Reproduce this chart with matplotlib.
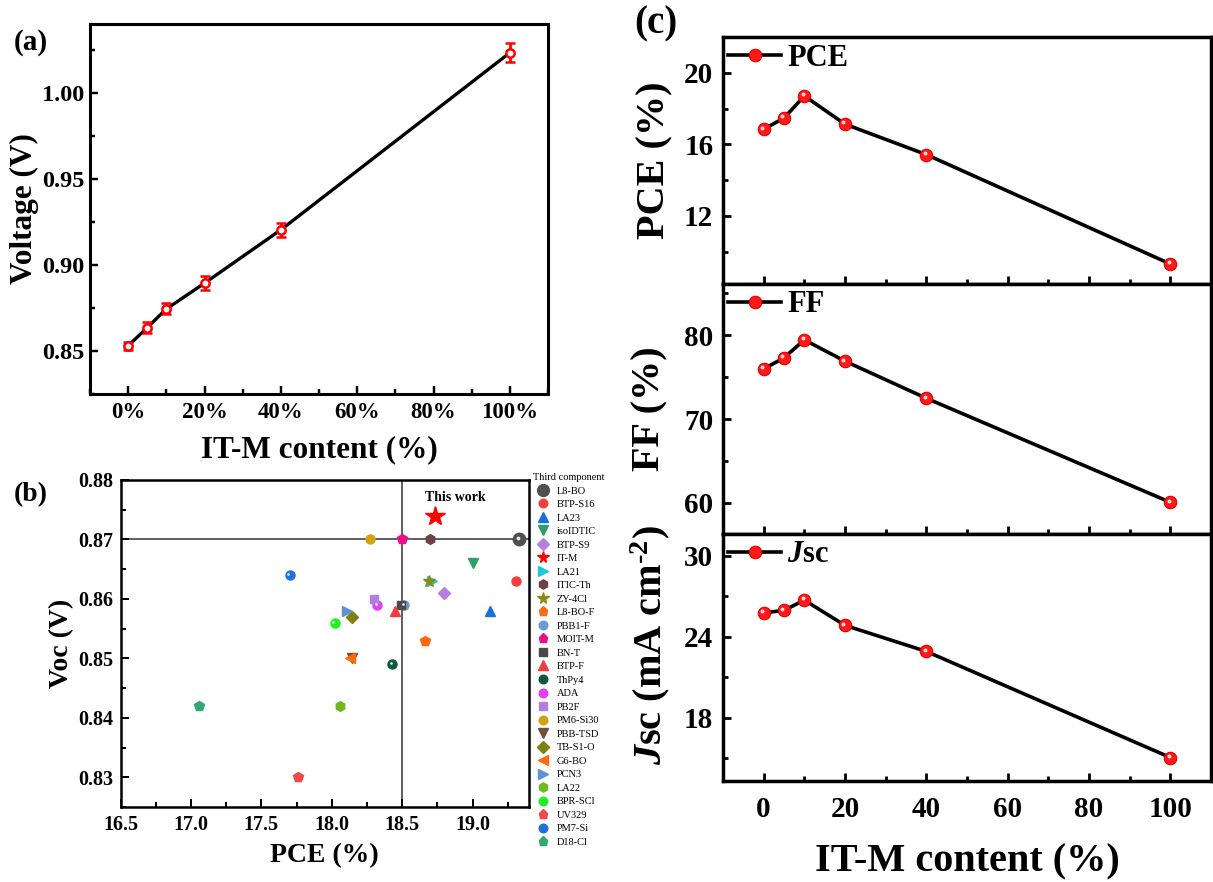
import numpy as np
import matplotlib
matplotlib.use('Agg')
import matplotlib.pyplot as plt
from matplotlib.lines import Line2D
from matplotlib.transforms import ScaledTranslation
from matplotlib.ticker import MultipleLocator, FuncFormatter

plt.rcParams['font.family'] = ['Liberation Serif', 'DejaVu Serif']
plt.rcParams['font.weight'] = 'bold'
plt.rcParams['axes.labelweight'] = 'bold'
plt.rcParams['mathtext.fontset'] = 'custom'
plt.rcParams['mathtext.rm'] = 'Liberation Serif:bold'
plt.rcParams['mathtext.it'] = 'Liberation Serif:italic:bold'
plt.rcParams['mathtext.bf'] = 'Liberation Serif:bold'

# ---- (a) Voc vs IT-M content
content = [0, 5, 10, 20, 40, 100]
voltage = [0.853, 0.8636, 0.8744, 0.8894, 0.9204, 1.0233]
voltage_err = [0.0024, 0.0034, 0.0032, 0.0040, 0.0040, 0.0055]

# ---- (b) literature comparison
components = ['L8-BO', 'BTP-S16', 'LA23', 'isoIDTIC', 'BTP-S9', 'IT-M', 'LA21', 'ITIC-Th',
              'ZY-4Cl', 'L8-BO-F', 'PBB1-F', 'MOIT-M', 'BN-T', 'BTP-F', 'ThPy4', 'ADA',
              'PB2F', 'PM6-Si30', 'PBB-TSD', 'TB-S1-O', 'G6-BO', 'PCN3', 'LA22', 'BPR-SCl',
              'UV329', 'PM7-Si', 'D18-Cl']
pce_lit = [19.33, 19.31, 19.12, 19.00, 18.80, 18.73, 18.71, 18.70,
           18.69, 18.66, 18.51, 18.50, 18.49, 18.45, 18.43, 18.32,
           18.30, 18.27, 18.14, 18.14, 18.13, 18.11, 18.06, 18.02,
           17.76, 17.70, 17.06]
voc_lit = [0.870, 0.863, 0.858, 0.866, 0.861, 0.874, 0.863, 0.870,
           0.863, 0.853, 0.859, 0.870, 0.859, 0.858, 0.849, 0.859,
           0.860, 0.870, 0.850, 0.857, 0.850, 0.858, 0.842, 0.856,
           0.830, 0.864, 0.842]
# marker styles per component
mk = ['o', 'o', '^', 'v', 'D', '*', '>', 'h',
      '*', 'p', 'o', 'p', 's', '^', 'o', 'o',
      's', 'o', 'v', 'D', '<', '>', 'h', 'o',
      'p', 'o', 'p']
cols = ['#505050', '#f04040', '#1a6fdc', '#2e9e6a', '#b47fe0', '#ff0000', '#1ec8d8', '#6e4040',
        '#8a8a10', '#ff6a10', '#6a9ad8', '#e8108a', '#4a4a4a', '#f03c3c', '#0d5a3a', '#e040f0',
        '#b080e0', '#d4a010', '#7a4a3a', '#808010', '#ff6a10', '#6090d0', '#70b820', '#20f020',
        '#f04848', '#2070e0', '#30a870']
sizes = [9, 6.5, 7, 7, 6, 15, 7, 7,
         9, 7, 6.5, 7, 6, 7, 6.5, 6.5,
         6, 6.5, 7, 6, 7, 7, 7, 6.5,
         7, 6.5, 7]
sphere = ['L8-BO', 'PBB1-F', 'ThPy4', 'ADA', 'BPR-SCl', 'PM7-Si']

# ---- (c) device parameters
pce = [16.85, 17.47, 18.71, 17.13, 15.43, 9.32]
ff = [75.98, 77.30, 79.44, 76.90, 72.48, 60.08]
jsc = [25.76, 25.94, 26.70, 24.83, 22.90, 15.04]

W, H = 1213, 882
fig = plt.figure(figsize=(W / 100, H / 100), dpi=100)


def box(l, t, r, b):
    return [l / W, 1 - b / H, (r - l) / W, (b - t) / H]


def style(ax, lw, fs, pad):
    for s in ax.spines.values():
        s.set_linewidth(lw)
    ax.tick_params(which='both', direction='in', top=False, right=False, width=lw * 0.8)
    ax.tick_params(which='major', length=6, labelsize=fs, pad=pad)
    ax.tick_params(which='minor', length=3.5)


def highlight(ax, x, y, ms, dx=-1.0, dy=1.0):
    off = ax.transData + ScaledTranslation(dx / 72, dy / 72, fig.dpi_scale_trans)
    ax.plot(x, y, 'o', ms=ms, color='white', alpha=0.85, mec='none', transform=off, zorder=6)


# ================= (a)
axa = fig.add_axes(box(90, 24, 548, 394))
axa.plot(content, voltage, color='black', lw=2.4, zorder=2)
axa.errorbar(content, voltage, yerr=voltage_err, fmt='o', ms=6, mfc='white', mec='red', mew=1.8,
             ecolor='red', elinewidth=2.0, capsize=3.5, capthick=2.0, zorder=3)
axa.set_xlim(-10, 110)
axa.set_ylim(0.825, 1.04)
axa.xaxis.set_major_locator(MultipleLocator(20))
axa.xaxis.set_minor_locator(MultipleLocator(10))
axa.yaxis.set_major_locator(MultipleLocator(0.05))
axa.yaxis.set_minor_locator(MultipleLocator(0.025))
axa.xaxis.set_major_formatter(FuncFormatter(lambda v, p: f'{int(round(v))}%'))
style(axa, 2.2, 16.5, 6)
axa.tick_params(axis='y', pad=4, labelsize=17.5)
axa.set_ylabel('Voltage (V)', fontsize=22.5)
axa.set_xlabel('IT-M content (%)', fontsize=22.5)
axa.yaxis.set_label_coords(-0.111, 0.5)
axa.xaxis.set_label_coords(0.5, -0.111)
fig.text(14 / W, 1 - 42 / H, '(a)', fontsize=21, va='center', ha='left')

# ================= (b)
axb = fig.add_axes(box(120.5, 480, 529, 807))
axb.axhline(0.87, color='#333333', lw=1.1, zorder=1)
axb.axvline(18.5, color='#333333', lw=1.1, zorder=1)
handles = []
for name, x, y, m, c, s in zip(components, pce_lit, voc_lit, mk, cols, sizes):
    axb.plot(x, y, marker=m, ms=s, color=c, mec=c, ls='none', zorder=4)
    if name in sphere:
        highlight(axb, x, y, s * 0.3, -0.8, 0.8)
    handles.append(Line2D([], [], marker=m, ms=min(s, 9) * 0.95, color=c, ls='none'))
axb.text(18.88, 0.8771, 'This work', fontsize=10, ha='center', va='center')
axb.set_xlim(16.5, 19.4)
axb.set_ylim(0.825, 0.88)
axb.xaxis.set_major_locator(MultipleLocator(0.5))
axb.xaxis.set_minor_locator(MultipleLocator(0.25))
axb.yaxis.set_major_locator(MultipleLocator(0.01))
axb.yaxis.set_minor_locator(MultipleLocator(0.005))
axb.xaxis.set_major_formatter(FuncFormatter(lambda v, p: f'{v:.1f}'))
axb.yaxis.set_major_formatter(FuncFormatter(lambda v, p: f'{v:.2f}'))
style(axb, 1.8, 14.5, 6)
axb.tick_params(axis='y', pad=5)
axb.set_ylabel('Voc (V)', fontsize=20)
axb.set_xlabel('PCE (%)', fontsize=20)
axb.yaxis.set_label_coords(-0.114, 0.5)
axb.xaxis.set_label_coords(0.5, -0.11)
fig.text(14 / W, 1 - 495 / H, '(b)', fontsize=20, va='center', ha='left')

leg = axb.legend(handles, components, loc='upper left', bbox_to_anchor=(533 / W, 1 - 473 / H),
                 bbox_transform=fig.transFigure, frameon=False, prop={'size': 7.5, 'weight': 'normal'},
                 title='Third component', title_fontproperties={'size': 7.5, 'weight': 'normal'},
                 handlelength=1.9, handletextpad=0.35, labelspacing=0.405, borderpad=0,
                 borderaxespad=0, alignment='left')

# ================= (c)
panels = [(pce, 'PCE (%)', 'PCE', (8.2, 22.0), 4, 2, 37, 284, -0.102, 0.5),
          (ff, 'FF (%)', 'FF', (56.3, 86.1), 10, 5, 284, 534, -0.112, 0.5),
          (jsc, r'$\mathit{J}$sc (mA cm$^{\text{-2}}$)', r'$\mathit{J}$sc', (13.3, 31.6), 6, 3, 534, 781,
           -0.105, 0.55)]
axes_c = []
for vals, ylab, lab, ylim, maj, mnr, top, bot, lx, ly in panels:
    ax = fig.add_axes(box(723, top, 1211, bot))
    ax.plot(content, vals, color='black', lw=2.6, marker='o', ms=9, mfc='#ff1a1a', mec='#e00000',
            mew=0.8, label=lab, zorder=3)
    highlight(ax, content, vals, 2.8, -1.2, 1.2)
    ax.set_xlim(-10, 110)
    ax.set_ylim(*ylim)
    ax.xaxis.set_major_locator(MultipleLocator(20))
    ax.xaxis.set_minor_locator(MultipleLocator(10))
    ax.yaxis.set_major_locator(MultipleLocator(maj))
    ax.yaxis.set_minor_locator(MultipleLocator(mnr))
    style(ax, 2.5, 21, 7)
    ax.tick_params(axis='x', pad=11)
    ax.set_ylabel(ylab, fontsize=29)
    ax.yaxis.set_label_coords(lx, ly)
    ax.legend(loc='center left', bbox_to_anchor=(0.01, 1 - 21 / (bot - top)), frameon=False,
              fontsize=22, handlelength=1.75, handletextpad=0.2, borderpad=0, borderaxespad=0)
    axes_c.append(ax)

for ax in axes_c[:2]:
    ax.tick_params(axis='x', labelbottom=False)
axes_c[2].set_xlabel('IT-M content (%)', fontsize=29)
axes_c[2].xaxis.set_label_coords(0.5, -0.251)
fig.text(634 / W, 1 - 24 / H, '(c)', fontsize=28, va='center', ha='left')

fig.savefig('out.png', dpi=100)
